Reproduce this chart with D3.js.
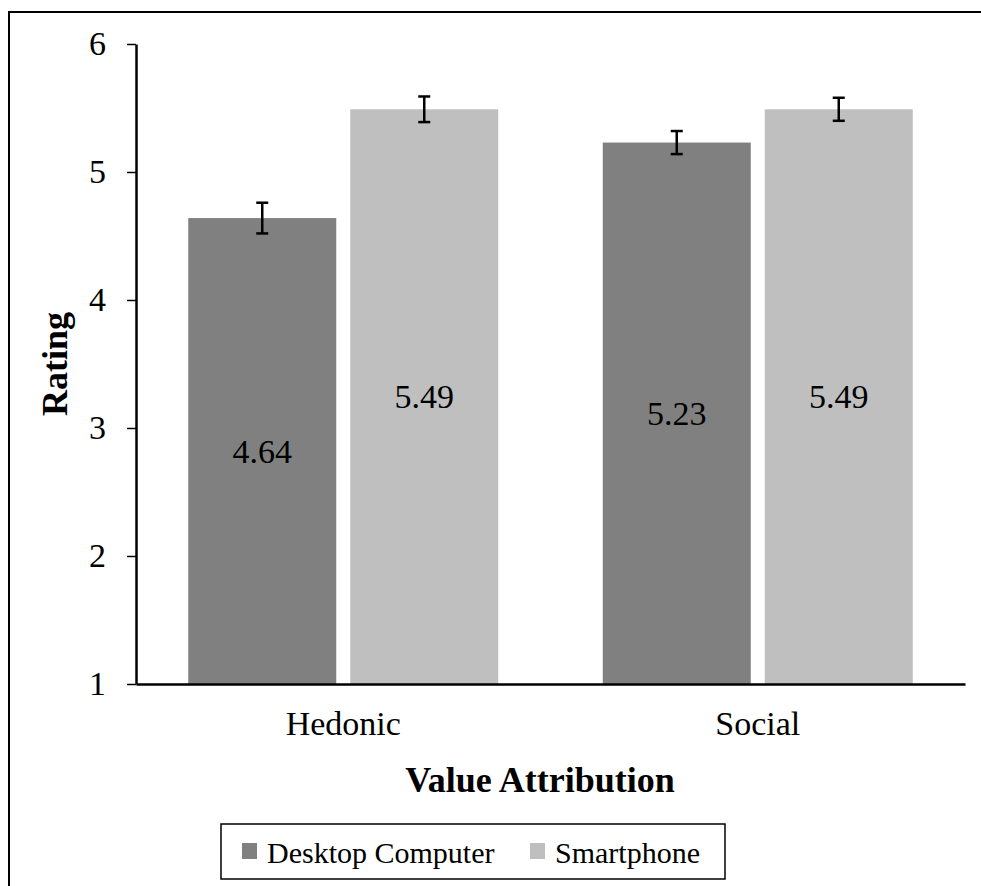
<!DOCTYPE html>
<html>
<head>
<meta charset="utf-8">
<script src="https://cdn.jsdelivr.net/npm/d3@7"></script>
<style>
  body { margin: 0; background: #fff; }
  svg { display: block; }
  text { font-family: "Liberation Serif", "Times New Roman", serif; }
</style>
</head>
<body>
<div id="chart"></div>
<script>
let w = 981
let h = 886

// data
let categories = ["Hedonic", "Social"]
let seriesNames = ["Desktop Computer", "Smartphone"]
let seriesColors = ["#808080", "#bfbfbf"]
let desktopValues = [4.64, 5.23]
let smartphoneValues = [5.49, 5.49]
let desktopErrors = [0.12, 0.09]
let smartphoneErrors = [0.10, 0.09]
let yTicks = [1, 2, 3, 4, 5, 6]

let rows = []
categories.forEach((c, i) => {
	rows.push({ cat: c, series: seriesNames[0], value: desktopValues[i], err: desktopErrors[i] })
	rows.push({ cat: c, series: seriesNames[1], value: smartphoneValues[i], err: smartphoneErrors[i] })
})

let plotLeft = 136, plotRight = 965, plotTop = 44, plotBottom = 684

let svg = d3.select("#chart")
	.append("svg")
	.attr("width", w)
	.attr("height", h)
	.attr("font-family", "Liberation Serif")

// outer frame
svg.append("rect")
	.attr("x", 9)
	.attr("y", 12)
	.attr("width", 1000)
	.attr("height", 1000)
	.attr("fill", "none")
	.attr("stroke", "#000")
	.attr("stroke-width", 2)

let x0 = d3.scaleBand()
	.domain(categories)
	.range([plotLeft, plotRight])
	.padding(0)

let x1 = d3.scaleBand()
	.domain(seriesNames)
	.range([0, x0.bandwidth()])
	.paddingInner(0.0864)
	.paddingOuter(0.3225)

let y = d3.scaleLinear()
	.domain([1, 6])
	.range([plotBottom, plotTop])

let color = d3.scaleOrdinal()
	.domain(seriesNames)
	.range(seriesColors)

// bars
svg.append("g")
	.selectAll("rect")
	.data(rows)
	.enter()
	.append("rect")
	.attr("x", d => x0(d.cat) + x1(d.series))
	.attr("y", d => y(d.value))
	.attr("width", x1.bandwidth())
	.attr("height", d => y(1) - y(d.value))
	.attr("fill", d => color(d.series))

// value labels
svg.append("g")
	.selectAll("text")
	.data(rows)
	.enter()
	.append("text")
	.text(d => d.value.toFixed(2))
	.attr("x", d => x0(d.cat) + x1(d.series) + x1.bandwidth() / 2)
	.attr("y", d => (y(d.value) + y(1)) / 2)
	.attr("dy", "0.34em")
	.attr("text-anchor", "middle")
	.attr("font-size", 34)
	.attr("fill", "#000")

// error bars
let eb = svg.append("g")
	.attr("stroke", "#000")
	.attr("stroke-width", 2.5)
	.selectAll("g")
	.data(rows)
	.enter()
	.append("g")
	.attr("transform", d => "translate(" + (x0(d.cat) + x1(d.series) + x1.bandwidth() / 2) + ",0)")

eb.append("line")
	.attr("x1", 0).attr("x2", 0)
	.attr("y1", d => y(d.value + d.err))
	.attr("y2", d => y(d.value - d.err))
eb.append("line")
	.attr("x1", -6).attr("x2", 6)
	.attr("y1", d => y(d.value + d.err))
	.attr("y2", d => y(d.value + d.err))
eb.append("line")
	.attr("x1", -6).attr("x2", 6)
	.attr("y1", d => y(d.value - d.err))
	.attr("y2", d => y(d.value - d.err))

// axes
let yAxis = d3.axisLeft(y)
	.tickValues(yTicks)
	.tickFormat(d3.format("d"))
	.tickSize(9)
	.tickSizeOuter(0)
	.tickPadding(21)

let gy = svg.append("g")
	.attr("transform", "translate(" + plotLeft + ",0)")
	.call(yAxis)
gy.attr("font-family", "Liberation Serif")
gy.selectAll("text").attr("font-size", 34).attr("fill", "#000")
gy.selectAll("line").attr("stroke", "#000").attr("stroke-width", 1.5)
gy.select(".domain").attr("stroke", "#000").attr("stroke-width", 2.5)

let xAxis = d3.axisBottom(x0)
	.tickSize(0)
	.tickSizeOuter(0)
	.tickPadding(27)

let gx = svg.append("g")
	.attr("transform", "translate(0," + plotBottom + ")")
	.call(xAxis)
gx.attr("font-family", "Liberation Serif")
gx.selectAll("text").attr("font-size", 34).attr("fill", "#000")
gx.select(".domain").attr("stroke", "#000").attr("stroke-width", 2.5)

// axis titles
svg.append("text")
	.text("Value Attribution")
	.attr("x", 540)
	.attr("y", 792)
	.attr("text-anchor", "middle")
	.attr("font-size", 36)
	.attr("font-weight", "bold")

svg.append("text")
	.text("Rating")
	.attr("transform", "translate(67," + ((plotTop + plotBottom) / 2) + ") rotate(-90)")
	.attr("text-anchor", "middle")
	.attr("font-size", 36)
	.attr("font-weight", "bold")

// legend
let legend = svg.append("g")
legend.append("rect")
	.attr("x", 221)
	.attr("y", 824)
	.attr("width", 504)
	.attr("height", 55)
	.attr("fill", "#fff")
	.attr("stroke", "#000")
	.attr("stroke-width", 1.5)

let legendX = [242, 530]
let items = legend.selectAll("g.item")
	.data(seriesNames)
	.enter()
	.append("g")
	.attr("class", "item")
	.attr("transform", (d, i) => "translate(" + legendX[i] + ",0)")
items.append("rect")
	.attr("x", 0)
	.attr("y", 843)
	.attr("width", 15)
	.attr("height", 16)
	.attr("fill", d => color(d))
items.append("text")
	.text(d => d)
	.attr("x", 25)
	.attr("y", 863)
	.attr("font-size", 30)
</script>
</body>
</html>
